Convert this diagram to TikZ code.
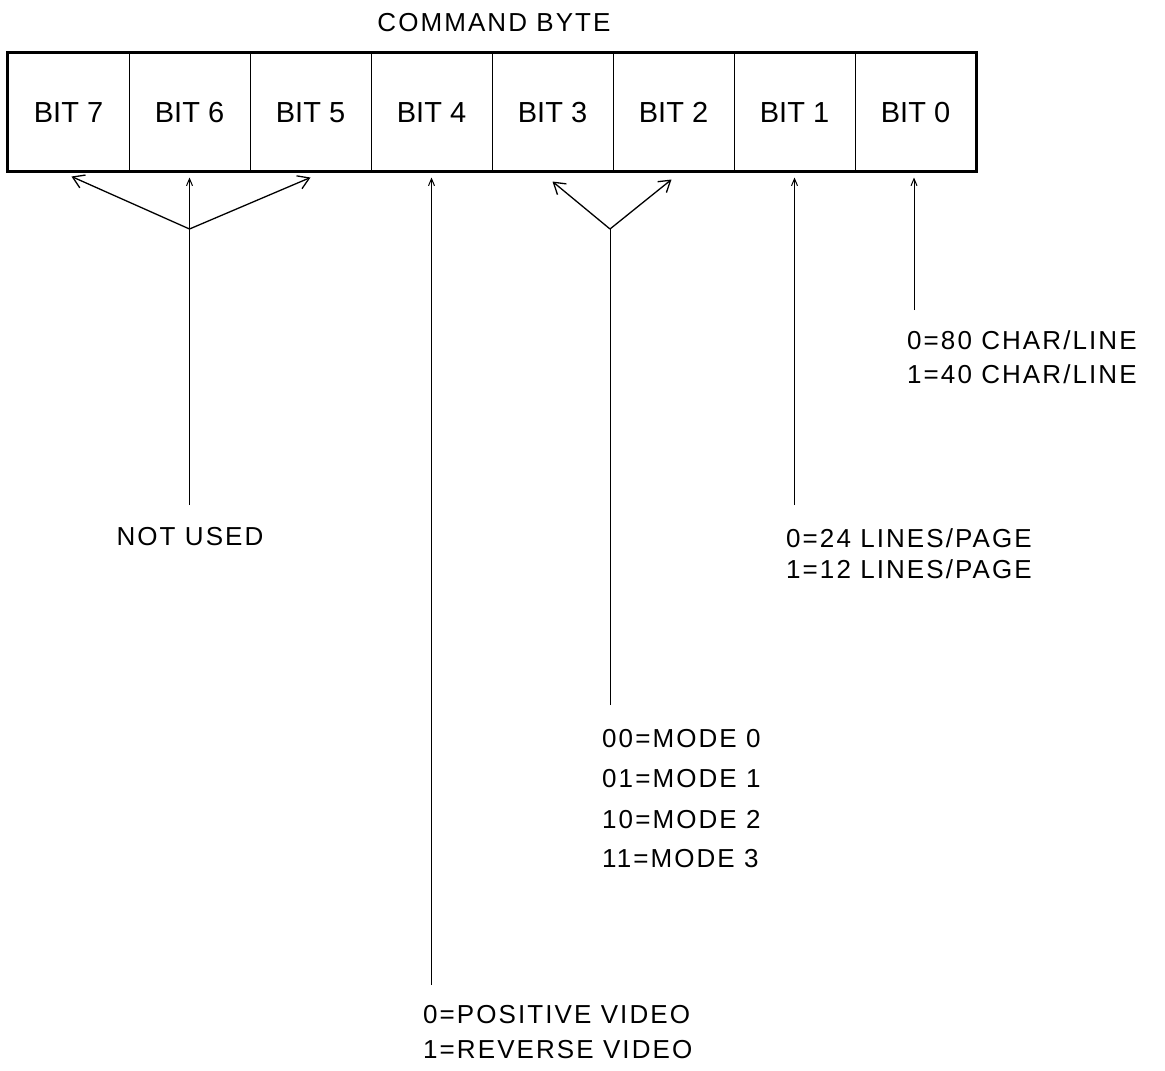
\documentclass[tikz,border=0pt]{standalone}
\usepackage{fontspec}
\setmainfont{Liberation Sans}
\newfontfamily\lblfont[LetterSpace=8]{Liberation Sans}
\usetikzlibrary{arrows.meta}
\begin{document}
\begin{tikzpicture}[x=1pt,y=-1pt,
  cell/.style={draw,line width=1pt,minimum width=121pt,minimum height=118pt,inner sep=0pt,
    text height=21pt,text depth=0pt,font=\fontsize{29}{32}\selectfont},
  lbl/.style={font=\lblfont\fontsize{26}{30}\selectfont,inner sep=0pt},
  fork/.style={line width=1.3pt,-{Straight Barb[length=11pt,width=14pt,line width=1.3pt]}},
  ptr/.style={line width=1pt,-{Straight Barb[length=7pt,width=6pt,line width=1pt]}},
  stem/.style={line width=1pt},
  frame/.style={line width=2.6pt},
]
\useasboundingbox (0,0) rectangle (1165,1071);

% title
\node[lbl,anchor=base] (title) at (494,31) {COMMAND BYTE};

% cells
\node[cell] (b7) at (68.5,112) {BIT 7};
\node[cell] (b6) at (189.5,112) {BIT 6};
\node[cell] (b5) at (310.5,112) {BIT 5};
\node[cell] (b4) at (431.5,112) {BIT 4};
\node[cell] (b3) at (552.5,112) {BIT 3};
\node[cell] (b2) at (673.5,112) {BIT 2};
\node[cell] (b1) at (794.5,112) {BIT 1};
\node[cell] (b0) at (915.5,112) {BIT 0};
\draw[frame] (b7.north west) rectangle (b0.south east);

% NOT USED (bits 7,6,5)
\coordinate (j1) at (189.5,229);
\coordinate (nu) at (189.5,505);
\draw[fork] (j1) -- ([shift={(3,5)}]b7.south);
\draw[fork] (j1) -- ([shift={(0,6)}]b5.south);
\draw[ptr] (nu) -- ([shift={(0,6)}]b6.south);
\node[lbl,anchor=base] (notused) at (190,545) {NOT USED};

% bit 4
\coordinate (v4) at (431.5,985);
\draw[ptr] (v4) -- ([shift={(0,6)}]b4.south);
\node[lbl,anchor=base west] (pv) at (423,1023) {0=POSITIVE VIDEO};
\node[lbl,anchor=base west] (rv) at (423,1058) {1=REVERSE VIDEO};

% bits 3,2
\coordinate (j2) at (610,229);
\coordinate (mb) at (610,705);
\draw[stem] (mb) -- (j2);
\draw[fork] (j2) -- ([shift={(0,10)}]b3.south);
\draw[fork] (j2) -- ([shift={(-2,8)}]b2.south);
\node[lbl,anchor=base west] (m0) at (602,747) {00=MODE 0};
\node[lbl,anchor=base west] (m1) at (602,787) {01=MODE 1};
\node[lbl,anchor=base west] (m2) at (602,828) {10=MODE 2};
\node[lbl,anchor=base west] (m3) at (602,867) {11=MODE 3};

% bit 1
\coordinate (v1) at (794.5,505);
\draw[ptr] (v1) -- ([shift={(0,6)}]b1.south);
\node[lbl,anchor=base west] (l24) at (786,547) {0=24 LINES/PAGE};
\node[lbl,anchor=base west] (l12) at (786,578) {1=12 LINES/PAGE};

% bit 0
\coordinate (v0) at (914,310);
\draw[ptr] (v0) -- ([shift={(-1.5,6)}]b0.south);
\node[lbl,anchor=base west] (c80) at (907,349) {0=80 CHAR/LINE};
\node[lbl,anchor=base west] (c40) at (907,383) {1=40 CHAR/LINE};
\end{tikzpicture}
\end{document}
